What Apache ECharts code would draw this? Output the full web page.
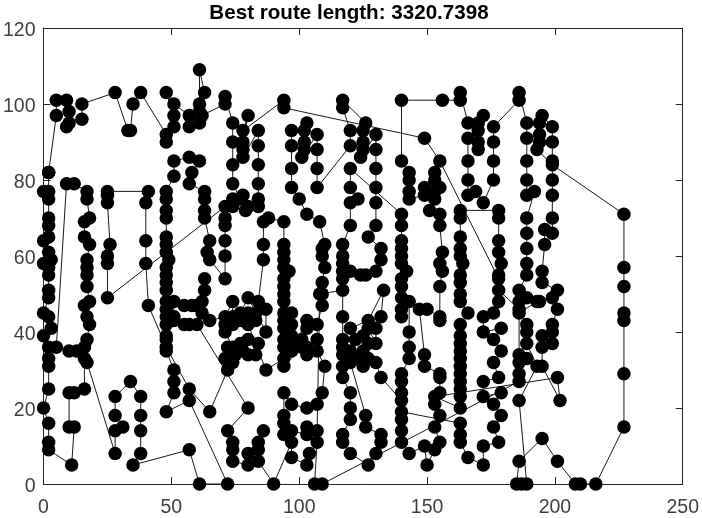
<!DOCTYPE html>
<html><head><meta charset="utf-8">
<style>html,body{margin:0;padding:0;background:#fff}#c{width:702px;height:518px}</style>
<script src="https://cdn.jsdelivr.net/npm/echarts@6/dist/echarts.min.js"></script>
</head><body><div id="c"></div>
<script>
const titleText = "Best route length: 3320.7398";
const xTicks = [0,50,100,150,200,250];
const yTicks = [0,20,40,60,80,100,120];
const legTopLeft = [[2,82],[5,97],[5,101],[9,101],[10,98],[9,94],[10,95],[15,96],[15,100],[28,103],[33,93],[34,93],[35,100],[38,103],[48,92],[48,90],[51,94],[51,97],[48,103],[51,100],[57,97],[57,94],[61,95],[61,98],[61,100],[61,109],[63,103],[62,97],[71,100],[71,102],[74,95],[74,90],[74,84],[74,79],[77,75],[74,75],[74,73],[79,72],[78,76],[80,73],[84,73],[84,75],[84,79],[84,84],[84,89],[84,93],[78,86],[78,88],[78,90],[80,97],[78,93],[94,101],[94,99],[149,91],[155,85]];
const legFarRight = [[178,54],[178,51],[186,46],[189,42],[189,40],[189,37],[193,31],[186,22],[189,0],[187,0],[185,0],[186,6],[195,12],[201,6],[208,0],[210,0],[216,0],[227,15],[227,29],[227,43],[227,45],[227,52],[227,57],[227,71],[199,84],[193,88],[194,90],[194,92],[194,95],[195,97],[199,94],[199,90],[199,85],[199,80],[199,76],[199,70],[199,66],[196,67],[196,63],[195,56],[195,53],[201,51],[199,49],[201,46],[199,42],[199,40],[199,37],[195,39],[195,36],[195,31],[202,22],[201,28],[153,23],[163,20]];
const legColumns = [[163,23],[163,25],[163,27],[163,29],[163,31],[163,33],[163,35],[163,37],[163,39],[163,42],[166,45],[163,48],[163,50],[163,53],[163,55],[164,58],[163,60],[163,62],[163,65],[163,70],[163,72],[178,72],[178,70],[178,64],[178,61],[179,58],[178,55],[178,48],[176,45],[172,44],[172,40],[179,41],[176,38],[179,35],[176,32],[178,28],[172,27],[172,23],[179,24],[176,21],[179,18],[176,15],[178,11],[172,10],[172,5],[166,7],[163,11],[163,13],[163,16],[140,19],[140,17],[140,14],[140,11],[143,8],[149,10],[150,5],[153,9],[155,11],[153,15],[155,18],[153,21],[155,24],[155,28],[155,29],[149,31],[149,34],[147,46],[150,46],[155,44],[155,43],[155,52],[156,56],[155,58],[156,61],[155,68],[155,71],[151,72],[153,75],[153,77],[155,78],[153,80],[153,82],[149,78],[149,76],[143,75],[143,77],[143,80],[143,82],[140,85],[140,101],[156,101],[163,101],[163,103],[166,95],[170,95],[172,97],[170,93],[170,90],[170,88],[166,91],[166,85],[166,80],[166,76],[169,77],[172,74],[176,80],[176,85],[176,90],[176,94],[186,101],[186,103],[189,95],[189,91],[189,85],[189,80],[189,76],[192,77],[189,70],[189,66],[189,62],[189,58],[189,55],[186,51],[186,48],[189,49],[194,48],[193,48],[186,45],[186,34],[189,33],[186,32],[186,29],[186,27],[109,0],[106,0],[107,11],[104,8],[103,5],[97,7],[97,11],[90,0],[84,6],[84,9],[84,11],[86,14],[80,8],[80,5],[74,6],[74,9],[74,11],[72,14],[80,20]];
const legMiddle = [[60,42],[57,42],[55,42],[51,43],[51,44],[51,48],[55,47],[58,47],[60,47],[62,48],[63,54],[63,51],[62,45],[65,43],[71,44],[74,48],[74,44],[71,42],[77,45],[80,49],[87,40],[87,46],[84,48],[86,59],[86,63],[86,69],[88,70],[94,69],[94,63],[94,61],[94,59],[94,57],[96,56],[94,54],[94,52],[94,50],[94,48],[97,45],[94,45],[94,43],[97,42],[94,41],[97,39],[94,38],[97,37],[94,36],[97,35],[103,43],[103,41],[101,38],[103,36],[107,38],[107,42],[109,47],[109,50],[109,53],[110,57],[109,60],[109,62],[110,63],[108,69],[103,71],[100,75],[97,78],[97,83],[97,89],[97,93],[102,93],[103,95],[102,90],[102,88],[101,86],[107,92],[107,88],[107,83],[107,78],[120,89],[120,93],[117,99],[117,101],[126,95],[125,93],[125,90],[125,88],[124,86],[130,92],[130,88],[130,83],[130,78],[130,74],[130,68],[127,65],[132,62],[132,59],[130,56],[126,55],[124,55],[120,56],[117,54],[117,56],[117,58],[117,60],[117,63],[120,68],[120,74],[123,75],[120,78],[120,83],[140,71],[140,68],[140,64],[140,62],[140,60],[140,58],[142,56],[140,54],[140,52],[140,49],[140,46],[140,44],[143,48],[143,40],[143,36],[143,33],[140,29],[140,27],[140,24],[140,22],[132,28],[130,32],[125,31],[127,33],[125,35],[127,37],[125,39],[127,41],[130,37],[130,41],[132,44],[133,51],[127,43],[120,41],[122,38],[120,35],[122,33],[120,32],[126,18],[126,15],[132,13],[132,11],[130,8],[127,5],[120,8],[117,11],[117,13],[120,17],[120,20],[120,24],[117,28],[117,31],[117,34],[117,36],[117,38],[117,44],[117,51],[108,50],[107,14],[103,15],[103,13],[97,14],[94,13],[94,16],[94,18],[94,24],[97,21],[103,20],[107,21],[109,24],[110,31],[107,35],[103,34],[101,36],[94,31],[94,33],[87,30],[80,42],[83,43],[83,45],[80,45],[77,43],[74,42],[71,40],[74,36],[77,37],[80,38],[84,37],[83,34],[80,34],[78,35],[75,34],[74,32],[72,36],[71,33],[72,30]];
const legLeft = [[65,19],[57,25],[48,36],[41,47],[40,58],[40,64],[40,74],[41,77],[25,77],[25,76],[25,74],[26,63],[25,60],[25,58],[25,49],[71,73],[71,70],[71,68],[71,64],[71,60],[71,54],[65,59],[64,61],[65,64],[63,70],[63,72],[63,75],[63,77],[57,79],[58,82],[61,85],[57,86],[51,85],[51,81],[48,77],[48,75],[48,72],[48,70],[48,65],[48,63],[48,61],[49,59],[48,57],[48,55],[48,53],[48,51],[48,48],[48,46],[48,44],[48,42],[48,39],[48,38],[48,35],[51,30],[51,27],[51,24],[48,19],[57,22],[72,0],[61,0],[57,9],[35,5],[38,8],[38,14],[38,18],[38,23],[34,27],[28,23],[28,18],[31,15],[28,14],[28,8],[17,32],[17,38],[18,42],[17,44],[16,47],[18,48],[17,52],[17,55],[17,57],[17,59],[18,63],[16,65],[16,69],[18,70],[17,75],[17,77],[12,79],[9,79],[5,36],[10,35],[13,35],[16,36],[16,33],[16,25],[12,24],[10,24],[10,15],[12,15],[11,5],[2,9],[2,11],[2,16],[0,20],[2,25],[2,31],[2,33],[2,36],[0,39],[3,41],[2,44],[0,45],[2,49],[2,51],[2,55],[2,57],[3,59],[0,58],[2,61],[0,64],[2,65],[2,68],[2,70],[2,75],[0,77],[2,77],[2,82]];
const route = [].concat(legTopLeft, legFarRight, legColumns, legMiddle, legLeft);
const chart = echarts.init(document.getElementById('c'), null, {renderer:'canvas'});
const ink = '#262626';
const labelInk = '#404040';
const font = '"Liberation Sans", Arial, sans-serif';
const mkX = (show,pos) => ({type:'value',min:0,max:xTicks[xTicks.length-1],interval:50,position:pos,
  axisLine:{onZero:false,lineStyle:{color:ink,width:1}},axisTick:{show:true,inside:true,length:7,lineStyle:{color:ink}},
  axisLabel:{show:show,color:labelInk,fontSize:19.5,fontFamily:font,margin:14},splitLine:{show:false}});
const mkY = (show,pos) => ({type:'value',min:0,max:yTicks[yTicks.length-1],interval:20,position:pos,
  axisLine:{onZero:false,lineStyle:{color:ink,width:1}},axisTick:{show:true,inside:true,length:7,lineStyle:{color:ink}},
  axisLabel:{show:show,margin:8,formatter:'{a|{value}}',
    rich:{a:{color:labelInk,fontSize:19.5,fontFamily:font,padding:[6,0,0,0]}}},splitLine:{show:false}});
chart.setOption({
  animation:false,backgroundColor:'#fff',
  title:{text:titleText,left:344,top:-2,textAlign:'center',textStyle:{color:'#000',fontSize:20.6,fontWeight:'bold',fontFamily:font}},
  grid:{left:42,right:19,top:28,bottom:32,containLabel:false},
  xAxis:[mkX(true,'bottom'),mkX(false,'top')],
  yAxis:[mkY(true,'left'),mkY(false,'right')],
  series:[{type:'line',data:route,clip:false,symbol:'circle',symbolSize:13.5,showSymbol:true,showAllSymbols:true,
    lineStyle:{color:'#1a1a1a',width:1},itemStyle:{color:'#000'},silent:true,z:5}]
});
</script></body></html>
